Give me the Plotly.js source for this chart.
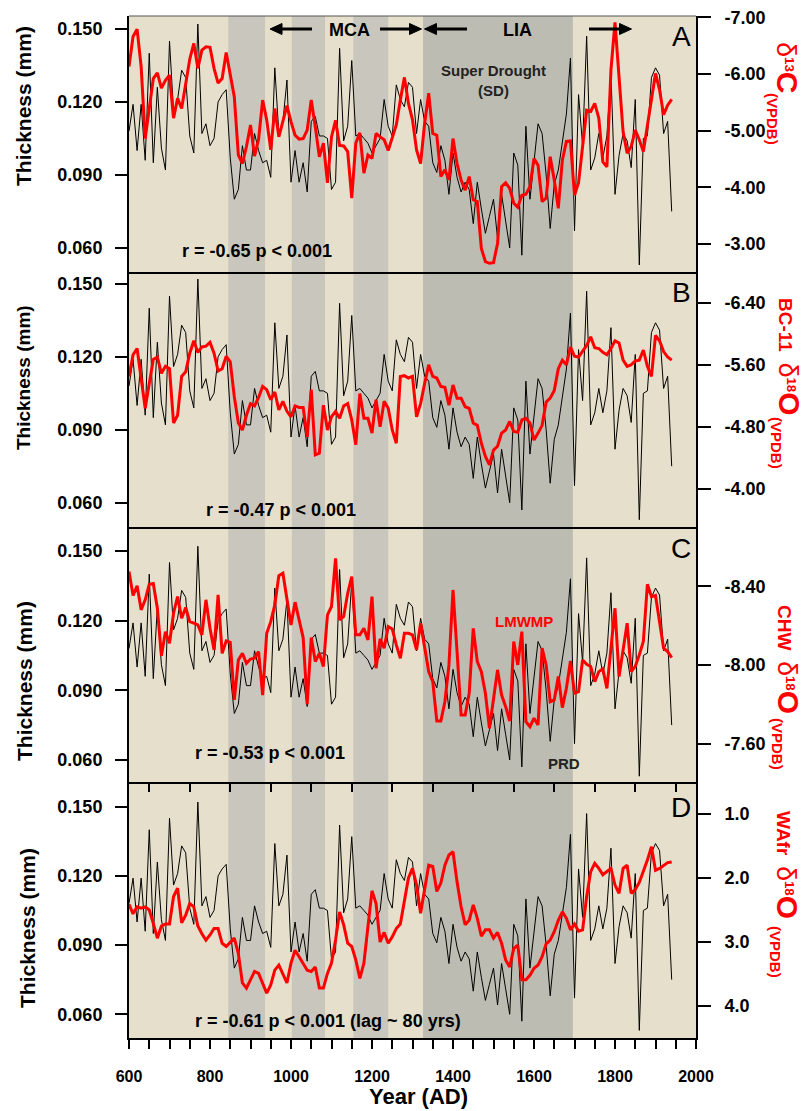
<!DOCTYPE html>
<html>
<head>
<meta charset="utf-8">
<script src="https://cdn.plot.ly/plotly-3.0.1.min.js"></script>
<style>html,body{margin:0;padding:0;background:#fff;}#chart{width:807px;height:1111px;}</style>
</head>
<body>
<div id="chart"></div>
<script>
// ---------------- data ----------------
const years = [600,610,620,630,640,650,660,670,680,690,700,710,720,730,740,750,760,770,780,790,
800,810,820,830,840,850,860,870,880,890,900,910,920,930,940,950,960,970,980,990,
1000,1010,1020,1030,1040,1050,1060,1070,1080,1090,1100,1110,1120,1130,1140,1150,1160,1170,1180,1190,
1200,1210,1220,1230,1240,1250,1260,1270,1280,1290,1300,1310,1320,1330,1340,1350,1360,1370,1380,1390,
1400,1410,1420,1430,1440,1450,1460,1470,1480,1490,1500,1510,1520,1530,1540,1550,1560,1570,1580,1590,
1600,1610,1620,1630,1640,1650,1660,1670,1680,1690,1700,1710,1720,1730,1740,1750,1760,1770,1780,1790,
1800,1810,1820,1830,1840,1850,1860,1870,1880,1890,1900,1910,1920,1930,1940];

// stalagmite band thickness (mm), black line, same in every panel
const thickness = [0.108,0.119,0.100,0.119,0.096,0.140,0.095,0.126,0.101,0.092,0.145,0.116,0.121,0.133,0.130,0.106,0.099,0.152,0.107,0.111,
0.102,0.105,0.120,0.123,0.125,0.097,0.080,0.084,0.102,0.092,0.092,0.107,0.100,0.095,0.096,0.089,0.134,0.107,0.112,0.129,
0.087,0.100,0.087,0.095,0.083,0.112,0.114,0.106,0.106,0.105,0.084,0.087,0.142,0.104,0.110,0.137,0.106,0.107,0.105,0.103,
0.099,0.102,0.105,0.121,0.110,0.106,0.127,0.121,0.118,0.128,0.126,0.107,0.121,0.112,0.110,0.095,0.091,0.102,0.096,0.082,
0.099,0.089,0.083,0.087,0.084,0.070,0.087,0.076,0.066,0.073,0.080,0.064,0.082,0.071,0.060,0.099,0.094,0.057,0.110,0.080,
0.095,0.111,0.107,0.090,0.068,0.086,0.092,0.104,0.115,0.138,0.067,0.123,0.102,0.147,0.092,0.097,0.107,0.097,0.106,0.132,
0.082,0.098,0.107,0.104,0.093,0.121,0.053,0.105,0.106,0.130,0.134,0.131,0.107,0.112,0.075];

// A: d13C (VPDB)
const d13C_A = [-6.13,-6.66,-6.79,-6.13,-4.86,-5.36,-5.92,-6.02,-5.75,-5.89,-5.98,-5.22,-5.57,-5.39,-5.81,-6.26,-6.54,-6.10,-6.42,-6.48,
-6.47,-6.10,-5.84,-5.92,-6.38,-6.01,-5.60,-4.57,-4.42,-4.72,-5.10,-4.55,-4.85,-5.54,-5.19,-4.66,-5.39,-4.89,-5.19,-5.44,
-5.16,-4.92,-4.85,-4.86,-5.01,-5.54,-5.07,-4.54,-4.78,-4.08,-4.89,-5.18,-4.74,-4.73,-4.63,-3.81,-4.78,-4.96,-4.25,-4.57,
-4.51,-4.95,-4.89,-4.84,-4.65,-4.89,-5.10,-5.54,-5.94,-5.48,-5.19,-4.66,-4.42,-5.13,-5.66,-4.95,-4.92,-4.19,-4.31,-4.13,
-4.86,-4.42,-4.13,-3.95,-4.19,-3.78,-3.75,-2.92,-2.69,-2.66,-2.67,-3.01,-4.01,-4.08,-3.98,-3.72,-3.65,-3.86,-3.88,-4.01,
-4.51,-4.39,-3.75,-3.81,-4.54,-4.13,-3.63,-4.48,-4.81,-4.82,-3.86,-4.08,-4.72,-5.36,-5.34,-5.48,-5.22,-4.45,-4.36,-6.07,
-6.91,-5.98,-4.98,-4.60,-4.72,-5.01,-4.84,-4.63,-5.10,-5.60,-6.01,-5.72,-5.28,-5.45,-5.55];

// B: BC-11 d18O (VPDB)
const d18O_B = [-5.45,-5.73,-5.81,-5.40,-5.04,-5.36,-5.67,-5.70,-5.49,-5.58,-5.55,-4.85,-4.95,-5.45,-5.51,-5.75,-5.91,-5.76,-5.83,-5.84,
-5.89,-5.75,-5.52,-5.55,-5.71,-5.64,-5.19,-4.85,-4.76,-4.95,-5.10,-5.07,-5.18,-5.32,-5.28,-5.15,-5.25,-5.02,-5.13,-5.00,
-4.93,-5.07,-5.05,-5.05,-4.67,-5.28,-4.44,-4.46,-5.08,-4.76,-4.93,-5.00,-4.91,-5.07,-5.10,-4.89,-4.57,-5.23,-4.91,-4.91,
-4.72,-5.15,-4.80,-5.13,-5.04,-4.76,-4.59,-5.45,-5.46,-5.43,-5.45,-4.93,-5.10,-5.36,-5.60,-5.45,-5.43,-5.32,-5.31,-5.08,
-5.34,-5.17,-5.17,-5.06,-5.04,-4.85,-4.82,-4.59,-4.42,-4.31,-4.50,-4.55,-4.72,-4.76,-4.87,-4.74,-4.73,-4.89,-4.91,-4.85,
-4.63,-4.72,-4.82,-5.12,-5.17,-5.27,-5.55,-5.66,-5.60,-5.83,-5.71,-5.70,-5.77,-5.85,-5.96,-5.82,-5.81,-5.76,-5.73,-5.81,
-5.91,-5.88,-5.66,-5.58,-5.60,-5.65,-5.66,-5.79,-5.58,-5.45,-5.98,-5.91,-5.77,-5.70,-5.66];

// C: CHW d18O (VPDB)
const d18O_C = [-8.475,-8.353,-8.402,-8.280,-8.331,-8.410,-8.414,-8.288,-8.047,-8.169,-8.110,-8.263,-8.347,-8.237,-8.292,-8.220,-8.212,-8.203,-8.153,-8.331,
-8.186,-8.076,-8.356,-8.059,-8.122,-8.115,-7.822,-8.025,-8.059,-8.008,-8.030,-8.034,-8.068,-7.847,-8.161,-8.220,-8.305,-8.454,-8.466,-8.331,
-8.203,-8.319,-8.220,-8.139,-7.800,-8.139,-8.017,-8.059,-7.992,-8.254,-8.297,-8.542,-8.229,-8.246,-8.364,-8.449,-8.153,-8.153,-8.186,-8.127,
-8.347,-7.983,-8.132,-8.085,-8.195,-8.183,-8.102,-8.034,-8.161,-8.161,-8.153,-8.076,-8.212,-8.085,-7.966,-7.915,-7.715,-7.715,-7.813,-8.000,
-8.381,-8.068,-7.746,-7.746,-7.856,-8.186,-8.017,-7.966,-7.856,-7.678,-7.830,-7.975,-7.847,-7.788,-7.715,-8.119,-8.000,-8.169,-7.712,-7.686,
-7.729,-7.695,-8.085,-8.000,-7.813,-7.822,-7.941,-7.783,-7.881,-8.020,-7.856,-7.864,-8.025,-8.003,-7.992,-7.915,-7.966,-7.980,-7.881,-8.068,
-8.288,-7.941,-8.068,-8.212,-7.966,-7.992,-8.051,-8.119,-8.410,-8.347,-8.353,-8.220,-8.085,-8.068,-8.037];

// D: WAfr d18O (VPDB)
const d18O_D = [2.41,2.56,2.45,2.47,2.45,2.50,2.71,2.94,2.75,2.72,2.72,2.29,2.16,2.70,2.58,2.40,2.45,2.75,2.87,2.97,
2.89,2.79,2.79,3.02,3.07,3.00,2.94,3.18,3.64,3.72,3.59,3.46,3.49,3.65,3.80,3.67,3.44,3.36,3.49,3.64,
3.33,3.13,3.23,3.33,3.44,3.46,3.39,3.72,3.72,3.49,3.33,2.97,2.53,2.73,3.02,3.07,3.28,3.57,3.33,2.76,
2.20,2.40,3.00,2.85,3.02,2.92,2.79,2.72,2.35,2.00,1.85,2.11,2.55,2.19,1.80,1.82,2.21,2.08,1.80,1.64,
1.59,2.06,2.45,2.73,2.66,2.42,2.63,2.91,2.81,2.81,2.94,2.85,3.02,3.28,3.39,3.10,3.05,3.59,3.59,3.52,
3.41,3.36,3.23,3.03,2.97,2.84,2.66,2.53,2.63,2.81,2.72,2.83,2.81,2.29,1.90,1.77,1.85,1.95,1.90,1.85,
2.11,2.24,1.85,1.80,2.24,2.18,2.07,1.90,1.72,1.51,1.88,1.85,1.80,1.76,1.75];

const bands = [[845,936],[1002,1084],[1154,1240]];
const liaBand = [1326,1696];

const leftTickVals = [0.06,0.09,0.12,0.15];
const leftTickText = ['0.060','0.090','0.120','0.150'];
const aTickVals = [-7,-6,-5,-4,-3];
const aTickText = ['-7.00','-6.00','-5.00','-4.00','-3.00'];
const bTickVals = [-6.4,-5.6,-4.8,-4.0];
const bTickText = ['-6.40','-5.60','-4.80','-4.00'];
const cTickVals = [-8.4,-8.0,-7.6];
const cTickText = ['-8.40','-8.00','-7.60'];
const dTickVals = [1,2,3,4];
const dTickText = ['1.0','2.0','3.0','4.0'];
const xTickVals = [600,800,1000,1200,1400,1600,1800,2000];
const xTickText = ['600','800','1000','1200','1400','1600','1800','2000'];
const cMinorTicks = [650,750,850,950,1050,1150,1250,1350,1450,1550,1650,1750,1850,1950];

// ---------------- layout helpers ----------------
const FONT = 'Liberation Sans, Arial, Helvetica, sans-serif';
const L = 129, R = 696, T = 16, B = 1038;
const px = v => (v - L) / (R - L);
const py = v => (B - v) / (B - T);

const panels = [
  {x:'x',  yl:'y',  yr:'y2', dom:[py(272),1],      lr:[0.0501,0.1553], rr:[-2.506,-7.023], tv:aTickVals, tt:aTickText, red:d13C_A},
  {x:'x2', yl:'y3', yr:'y4', dom:[py(527),py(272)], lr:[0.0500,0.1549], rr:[-3.51,-6.796],  tv:bTickVals, tt:bTickText, red:d18O_B},
  {x:'x3', yl:'y5', yr:'y6', dom:[py(782),py(527)], lr:[0.0505,0.1603], rr:[-7.405,-8.701], tv:cTickVals, tt:cTickText, red:d18O_C},
  {x:'x4', yl:'y7', yr:'y8', dom:[0,py(782)],      lr:[0.0497,0.1607], rr:[4.5,0.5],       tv:dTickVals, tt:dTickText, red:d18O_D}
];

const traces = [];
const layout = {
  width: 807, height: 1111,
  margin: {l: L, r: 807 - R, t: T, b: 1111 - B, pad: 0},
  paper_bgcolor: '#ffffff',
  plot_bgcolor: 'rgba(0,0,0,0)',
  showlegend: false,
  font: {family: FONT, color: '#000'},
  shapes: [],
  annotations: []
};

const axName = id => id.replace(/^x/, 'xaxis').replace(/^y/, 'yaxis');
const tickFont = {family: FONT, size: 18, weight: 'bold', color: '#000'};

panels.forEach((p, i) => {
  traces.push({x: years, y: thickness, xaxis: p.x, yaxis: p.yl, type: 'scatter', mode: 'lines',
    line: {color: '#000', width: 1}, hoverinfo: 'skip'});
  traces.push({x: years, y: p.red, xaxis: p.x, yaxis: p.yr, type: 'scatter', mode: 'lines',
    line: {color: '#ff0000', width: 3}, hoverinfo: 'skip'});

  const xa = {domain: [0, 1], anchor: p.yl, range: [600, 2000], showgrid: false, zeroline: false,
    showline: true, linecolor: '#000', linewidth: 2, showticklabels: false, ticks: ''};
  if (i === 2) {
    Object.assign(xa, {tickmode: 'array', tickvals: cMinorTicks, ticks: 'outside', ticklen: 8, tickwidth: 2, tickcolor: '#000'});
  }
  if (i === 3) {
    Object.assign(xa, {tickmode: 'array', tickvals: xTickVals, ticktext: xTickText, ticks: 'outside',
      ticklen: 9, tickwidth: 2, tickcolor: '#000', showticklabels: true, ticklabelstandoff: 14,
      tickfont: {family: FONT, size: 16, weight: 'bold', color: '#000'},
      minor: {dtick: 50, tick0: 600, ticks: 'outside', ticklen: 9, tickwidth: 2, tickcolor: '#000'}});
  }
  layout[axName(p.x)] = xa;

  layout[axName(p.yl)] = {domain: p.dom, anchor: p.x, range: p.lr, showgrid: false, zeroline: false,
    showline: true, linecolor: '#000', linewidth: 2, tickmode: 'array', tickvals: leftTickVals, ticktext: leftTickText,
    ticks: 'outside', ticklen: 12, tickwidth: 2, tickcolor: '#000', tickfont: tickFont, ticklabelstandoff: 9};

  layout[axName(p.yr)] = {overlaying: p.yl, side: 'right', anchor: p.x, range: p.rr, showgrid: false, zeroline: false,
    showline: true, linecolor: '#000', linewidth: 2, tickmode: 'array', tickvals: p.tv, ticktext: p.tt,
    ticks: 'outside', ticklen: 13, tickwidth: 2, tickcolor: '#000', tickfont: tickFont, ticklabelstandoff: 10};
});

// background and shaded periods
layout.shapes.push({type: 'rect', xref: 'paper', yref: 'paper', x0: 0, x1: 1, y0: 0, y1: 1,
  fillcolor: '#e5dfcb', line: {width: 0}, layer: 'below'});
bands.forEach(b => layout.shapes.push({type: 'rect', xref: 'x', yref: 'paper', x0: b[0], x1: b[1], y0: 0, y1: 1,
  fillcolor: '#c9c7bd', line: {width: 0}, layer: 'below'}));
layout.shapes.push({type: 'rect', xref: 'x', yref: 'paper', x0: liaBand[0], x1: liaBand[1], y0: 0, y1: 1,
  fillcolor: '#bdbcb2', line: {width: 0}, layer: 'below'});
layout.shapes.push({type: 'line', xref: 'paper', yref: 'paper', x0: 0, x1: 1, y0: 1, y1: 1,
  line: {color: '#555', width: 1.2}});

// period arrows (shaft + filled head), drawn as shapes
const arrowY = 29;
const arrow = (headX, tailX) => {
  const dir = tailX > headX ? 1 : -1;
  const baseX = headX + dir * 12;
  layout.shapes.push({type: 'line', xref: 'paper', yref: 'paper', x0: px(tailX), x1: px(baseX), y0: py(arrowY), y1: py(arrowY),
    line: {color: '#000', width: 3}});
  layout.shapes.push({type: 'path', xref: 'paper', yref: 'paper',
    path: `M${px(headX)},${py(arrowY)} L${px(baseX)},${py(arrowY - 5.5)} L${px(baseX)},${py(arrowY + 5.5)} Z`,
    fillcolor: '#000', line: {color: '#000', width: 1}});
};
arrow(270, 312);
arrow(421.5, 380);
arrow(424.5, 467);
arrow(631.5, 589);

// annotations
const ann = layout.annotations;
const txt = (text, x, y, size, opts) => ann.push(Object.assign({text, x: px(x), y: py(y), xref: 'paper', yref: 'paper',
  showarrow: false, xanchor: 'center', yanchor: 'middle',
  font: {family: FONT, size, weight: 'bold', color: '#000'}}, opts || {}));

// left titles
txt('Thickness (mm)', 23, 106, 21, {textangle: -90});
txt('Thickness (mm)', 23, 378, 19, {textangle: -90});
txt('Thickness (mm)', 25, 681, 21, {textangle: -90});
txt('Thickness (mm)', 27, 928, 21, {textangle: -90});

// right titles (main part + separate "(VPDB)" subscript)
const red = '#ff0000';
const iso = (prefix, mass, el) => prefix +
  '<span style="font-size:27px;font-weight:normal">δ</span>' +
  '<sup>' + mass + '</sup>' +
  '<span style="font-size:30px">' + el + '</span>';
const rt = size => ({textangle: 90, font: {family: FONT, size, weight: 'bold', color: red}});
txt(iso('', '13', 'C'), 788, 68, 19, rt(19));
txt('(VPDB)', 773, 119, 15, rt(15));
txt(iso('BC-11  ', '18', 'O'), 789, 357, 19, rt(19));
txt('(VPDB)', 777, 443, 15, rt(15));
txt(iso('CHW  ', '18', 'O'), 789, 659, 19, rt(19));
txt('(VPDB)', 778, 744, 15, rt(15));
txt(iso('WAfr  ', '18', 'O'), 788, 865, 19, rt(19));
txt('(VPDB)', 776, 952, 15, rt(15));

// panel letters
[['A', 37], ['B', 293], ['C', 548], ['D', 807]].forEach(([t, y]) =>
  txt(t, 681, y, 28, {font: {family: FONT, size: 28, weight: 'normal', color: '#000'}}));

// correlation texts
txt('r = -0.65 p < 0.001', 180, 251, 18, {xanchor: 'left'});
txt('r = -0.47 p < 0.001', 204, 510, 18, {xanchor: 'left'});
txt('r = -0.53 p < 0.001', 193, 753, 18, {xanchor: 'left'});
txt('r = -0.61 p < 0.001 (lag ~ 80 yrs)', 193, 1021, 18, {xanchor: 'left'});

// period labels
txt('MCA', 349, 30, 18);
txt('LIA', 517, 30, 18);
txt('Super Drought<br>(SD)', 493, 80, 15, {font: {family: FONT, size: 15, weight: 'bold', color: '#222'}});
txt('LMWMP', 524, 621, 15, {font: {family: FONT, size: 15, weight: 'bold', color: red}});
txt('PRD', 564, 763, 15, {font: {family: FONT, size: 15, weight: 'bold', color: '#222'}});
txt('Year (AD)', 418, 1096, 22);

Plotly.newPlot('chart', traces, layout, {staticPlot: true, displayModeBar: false});
</script>
</body>
</html>
